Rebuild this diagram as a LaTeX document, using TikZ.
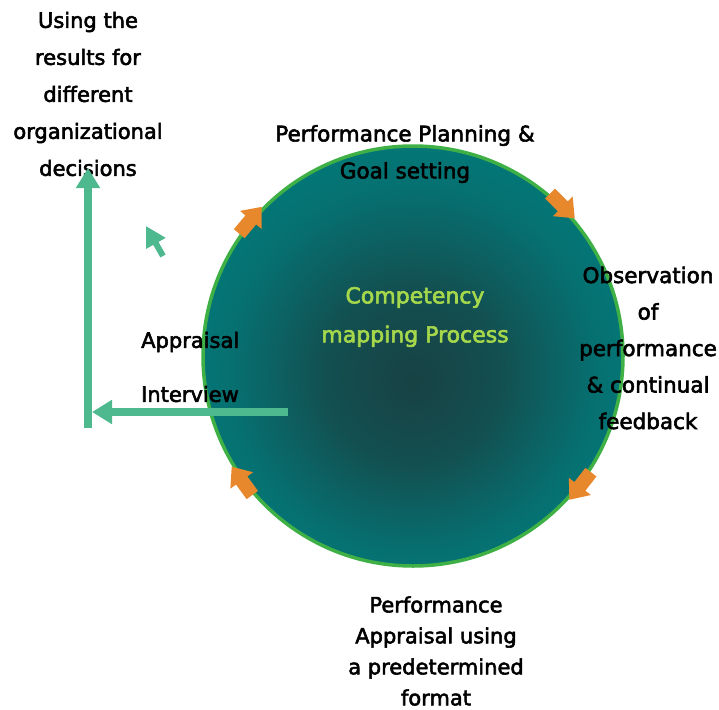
\documentclass[tikz,border=0pt]{standalone}
\usepackage{fontspec}
\setmainfont{DejaVu Sans}[BoldFont={DejaVu Sans},BoldFeatures={FakeBold=2.6}]
\usetikzlibrary{arrows.meta}

\definecolor{rimgreen}{RGB}{62,176,70}
\definecolor{discteal}{RGB}{0,128,128}
\definecolor{discdark}{RGB}{24,66,68}
\definecolor{flowgreen}{RGB}{78,184,142}
\definecolor{steporange}{RGB}{232,136,44}
\definecolor{titlegreen}{RGB}{166,216,76}

% dark core a little below the middle of the disc
\pgfdeclareradialshading{discglow}{\pgfpoint{0bp}{-3bp}}{color(0bp)=(discdark); color(10bp)=(discdark!80!discteal); color(22bp)=(discteal!75!discdark); color(34bp)=(discteal); color(50bp)=(discteal)}

% fat orange arrow sitting on the rim: border angle, heading
\newcommand\cyclearrow[2]{%
  \fill[steporange,shift={(cyc.#1)},rotate=#2]
    (17,0) -- (0,14) -- (0,7) -- (-18,7) -- (-18,-7) -- (0,-7) -- (0,-14) -- cycle;}

\begin{document}
\begin{tikzpicture}[x=1pt,y=-1pt,
 disc/.style={circle,minimum size=420pt,inner sep=0pt,draw=rimgreen,line width=3.5pt,shading=discglow},
 caption/.style={font=\fontsize{21.5}{37}\bfseries\selectfont,align=center,inner sep=0pt},
 flow/.style={draw=flowgreen,line width=8pt,-{Triangle[length=20pt,width=23pt]}}]
\useasboundingbox (0,0) rectangle (719,709);
\node[disc] (cyc) at (413,356) {};
\cyclearrow{140}{50}
\cyclearrow{45}{-45}
\cyclearrow{-38}{-128}
\cyclearrow{216}{126}
\node[caption,text=titlegreen,font=\fontsize{22}{39}\bfseries\selectfont] (title) at (415,317) {Competency\\mapping Process};
\node[caption] (plan) at (405,154) {Performance Planning \&\\Goal setting};
\node[caption,font=\fontsize{21.5}{36.5}\bfseries\selectfont] (observe) at (648,348) {Observation\\of\\performance\\\& continual\\feedback};
\node[caption,font=\fontsize{21}{31}\bfseries\selectfont] (appraise) at (436,651) {Performance\\Appraisal using\\a predetermined\\format};
\node[caption,align=left,anchor=west,font=\fontsize{21}{54}\bfseries\selectfont] (interview) at (141,367) {Appraisal\\Interview};
\node[caption,font=\fontsize{21}{37}\bfseries\selectfont] (uses) at (88,94) {Using the\\results for\\different\\organizational\\decisions};
% feedback path out to the decisions
\coordinate (hstart) at (288,412);
\coordinate (htip) at (92,412);
\coordinate (vfoot) at (88,428);
\coordinate (vtip) at (88,168);
\coordinate (hintfoot) at (163,256);
\coordinate (hinttip) at (146,226);
\draw[flow] (hstart) -- (htip);
\draw[flow] (vfoot) -- (vtip);
\draw[flow,line width=6pt,-{Triangle[length=20pt,width=21pt]}] (hintfoot) -- (hinttip);
\end{tikzpicture}
\end{document}
